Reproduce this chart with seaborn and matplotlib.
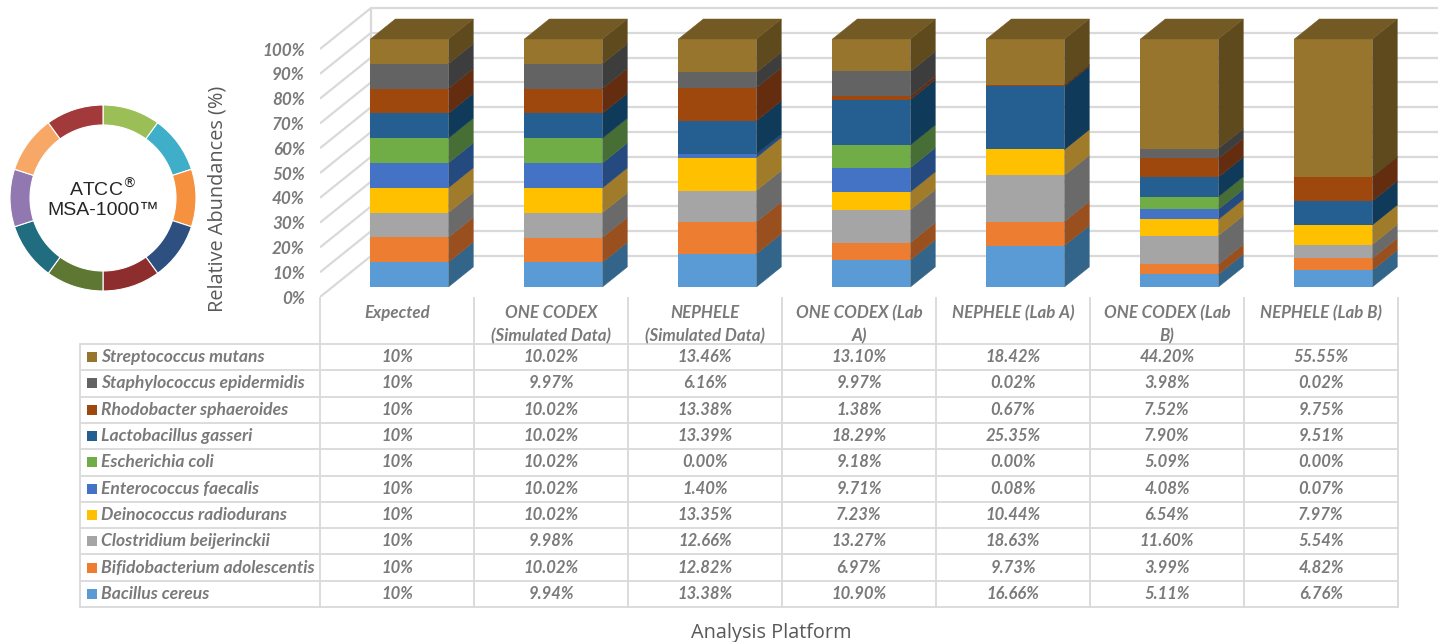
import numpy as np
import pandas as pd
import matplotlib
matplotlib.use("Agg")
import matplotlib.pyplot as plt
from matplotlib.patches import Polygon
import seaborn as sns

# ---------------- data ----------------
platforms = ["Expected", "ONE CODEX\n(Simulated Data)", "NEPHELE\n(Simulated Data)",
             "ONE CODEX (Lab\nA)", "NEPHELE (Lab A)", "ONE CODEX (Lab\nB)", "NEPHELE (Lab B)"]
value_decimals = [0, 2, 2, 2, 2, 2, 2]

# stacking order, bottom -> top
species = ["Bacillus cereus", "Bifidobacterium adolescentis", "Clostridium beijerinckii",
           "Deinococcus radiodurans", "Enterococcus faecalis", "Escherichia coli",
           "Lactobacillus gasseri", "Rhodobacter sphaeroides", "Staphylococcus epidermidis",
           "Streptococcus mutans"]

bacillus_cereus = [10, 9.94, 13.38, 10.90, 16.66, 5.11, 6.76]
bifidobacterium_adolescentis = [10, 10.02, 12.82, 6.97, 9.73, 3.99, 4.82]
clostridium_beijerinckii = [10, 9.98, 12.66, 13.27, 18.63, 11.60, 5.54]
deinococcus_radiodurans = [10, 10.02, 13.35, 7.23, 10.44, 6.54, 7.97]
enterococcus_faecalis = [10, 10.02, 1.40, 9.71, 0.08, 4.08, 0.07]
escherichia_coli = [10, 10.02, 0.00, 9.18, 0.00, 5.09, 0.00]
lactobacillus_gasseri = [10, 10.02, 13.39, 18.29, 25.35, 7.90, 9.51]
rhodobacter_sphaeroides = [10, 10.02, 13.38, 1.38, 0.67, 7.52, 9.75]
staphylococcus_epidermidis = [10, 9.97, 6.16, 9.97, 0.02, 3.98, 0.02]
streptococcus_mutans = [10, 10.02, 13.46, 13.10, 18.42, 44.20, 55.55]

series = [bacillus_cereus, bifidobacterium_adolescentis, clostridium_beijerinckii,
          deinococcus_radiodurans, enterococcus_faecalis, escherichia_coli,
          lactobacillus_gasseri, rhodobacter_sphaeroides, staphylococcus_epidermidis,
          streptococcus_mutans]

y_ticks = [0, 10, 20, 30, 40, 50, 60, 70, 80, 90, 100]
y_tick_labels = [f"{t}%" for t in y_ticks]

donut_title = "ATCC$^{\\circledR}$\nMSA-1000™"
donut_shares = [s[0] for s in series]   # expected: ten strains, equal shares

# ---------------- styles ----------------
front_colors = ["#5B9BD5", "#ED7D31", "#A5A5A5", "#FFC000", "#4472C4",
                "#70AD47", "#255E91", "#9E480E", "#636363", "#98752D"]
side_colors = ["#33658A", "#9A4F1E", "#6A6A6A", "#A07C2A", "#244A80",
               "#476F35", "#0F3A5A", "#652D10", "#3D3D3D", "#5F4A1E"]
top_colors = ["#4A7BA6", "#B8612A", "#858585", "#C09A20", "#365C9C",
              "#5A8A3A", "#1C4A73", "#7C380C", "#4F4F4F", "#735A24"]
donut_colors = ["#9BBE56", "#3FAEC8", "#F5913F", "#2D5080", "#8E2D2D",
                "#5E7833", "#1F6D7E", "#9178B0", "#F7A866", "#A23A3B"]

GRID = "#D9D9D9"
TXT = "#7A7A7A"

sns.set_theme(style="white")
plt.rcParams["font.family"] = ["Lato", "DejaVu Sans"]

W, H = 1438, 642
fig = plt.figure(figsize=(W / 100, H / 100), dpi=100)
fig.patch.set_facecolor("white")

# pseudo-3D geometry (pixel based)
PXX = 154.0      # pixels per category column
PXY = 2.48       # pixels per percent
DX = 51 / PXX    # column units per unit depth
DY = 41 / PXY    # percent per unit depth
ZF, ZB = 0.244, 0.732   # bar front / back depth
BW = 78 / PXX


def proj(col, v, z):
    return col + z * DX, v + (z - ZF) * DY


# ---------------- chart axes ----------------
ax = fig.add_axes([320 / W, (H - 297) / H, (W - 320) / W, 297 / H])
ax.set_facecolor("none")

# grid on walls
for v in y_ticks:
    x0, y0 = proj(-0.5, v, 0)
    x1, y1 = proj(-0.5, v, 1)
    x2, y2 = proj(7.5, v, 1)
    ax.plot([x0, x1], [y0, y1], color=GRID, lw=1.6, zorder=0, solid_capstyle="butt")
    ax.plot([x1, x2], [y1, y2], color=GRID, lw=1.6, zorder=0, solid_capstyle="butt")
xa, ya = proj(-0.5, 0, 1)
xb, yb = proj(-0.5, 100, 1)
ax.plot([xa, xb], [ya, yb], color=GRID, lw=1.6, zorder=0)

# front faces through seaborn (overlapping cumulative bars)
records = []
for i in range(len(platforms)):
    vals = np.array([s[i] for s in series], dtype=float)
    vals = vals / vals.sum() * 100
    cum = np.cumsum(vals)
    for j, sp in enumerate(species):
        records.append({"pos": i + ZF * DX, "species": sp, "top": cum[j]})
df = pd.DataFrame(records)
sns.barplot(data=df, x="pos", y="top", hue="species", hue_order=species[::-1],
            palette=dict(zip(species, front_colors)), dodge=False, native_scale=True,
            width=BW, errorbar=None, saturation=1, linewidth=0, legend=False, ax=ax,
            zorder=2)

# side and top faces
for i in range(len(platforms)):
    vals = np.array([s[i] for s in series], dtype=float)
    vals = vals / vals.sum() * 100
    cum = np.concatenate([[0], np.cumsum(vals)])
    xr = i + BW / 2
    xl = i - BW / 2
    for j in range(len(species)):
        b, t = cum[j], cum[j + 1]
        if t - b <= 0:
            continue
        pts = [proj(xr, b, ZF), proj(xr, b, ZB), proj(xr, t, ZB), proj(xr, t, ZF)]
        ax.add_patch(Polygon(pts, closed=True, facecolor=side_colors[j],
                             edgecolor=side_colors[j], lw=0.3, zorder=3))
    jt = max(j for j in range(len(species)) if vals[j] > 0)
    tot = cum[-1]
    pts = [proj(xl, tot, ZF), proj(xr, tot, ZF), proj(xr, tot, ZB), proj(xl, tot, ZB)]
    ax.add_patch(Polygon(pts, closed=True, facecolor=top_colors[jt],
                         edgecolor=top_colors[jt], lw=0.3, zorder=3))

ax.set_xlim(-0.5, -0.5 + (W - 320) / PXX)
ax.set_ylim(-ZF * DY, -ZF * DY + 297 / PXY)
ax.set_xticks([])
ax.set_xlabel("")
ax.set_ylabel("")
ax.set_yticks([v - ZF * DY for v in y_ticks])
ax.set_yticklabels(y_tick_labels, fontsize=12.3, fontweight="bold", fontstyle="italic",
                   color=TXT)
ax.tick_params(axis="y", length=0, pad=11)
for s in ax.spines.values():
    s.set_visible(False)

# ---------------- data table ----------------
RH = 26.3
HDR = 47 / RH
axt = fig.add_axes([70 / W, 0, (W - 70) / W, (H - 297) / H])
axt.set_xlim(-0.5 - 250 / PXX, -0.5 + (W - 320) / PXX)
axt.set_ylim((H - 344) / RH, -HDR)
axt.axis("off")

n_rows = len(species)
left_edge = -0.5 - 240 / PXX
for r in range(n_rows + 1):
    axt.plot([left_edge, len(platforms) - 0.5], [r, r], color=GRID, lw=1.3, zorder=1)
for c in range(len(platforms) + 1):
    axt.plot([c - 0.5, c - 0.5], [-HDR, n_rows], color=GRID, lw=1.3, zorder=1)
axt.plot([left_edge, left_edge], [0, n_rows], color=GRID, lw=1.3, zorder=1)

tfont = dict(fontweight="bold", fontstyle="italic", color=TXT)
for c, name in enumerate(platforms):
    axt.text(c, -HDR + 8 / RH, name, ha="center", va="top", linespacing=1.5,
             fontsize=12.2, **tfont)

for r in range(n_rows):
    j = n_rows - 1 - r
    axt.scatter([-0.5 - 228 / PXX], [r + 0.5], marker="s", s=50,
                color=front_colors[j], linewidths=0, zorder=2)
    axt.text(-0.5 - 219 / PXX, r + 0.5, species[j], ha="left", va="center",
             fontsize=12.6, **tfont)
    for c in range(len(platforms)):
        txt = f"{series[j][c]:.{value_decimals[c]}f}%"
        axt.text(c, r + 0.5, txt, ha="center", va="center", fontsize=12.0, **tfont)

# ---------------- labels ----------------
fig.text(771 / W, 1 - 633 / H, "Analysis Platform", ha="center", va="center",
         fontsize=14.3, color="#595959", family=["Open Sans", "DejaVu Sans"])
fig.text(218 / W, 1 - 199 / H, "Relative Abundances (%)", rotation=90, ha="center",
         va="center", fontsize=14.3, color="#595959", family=["Open Sans", "DejaVu Sans"])

# ---------------- donut ----------------
axd = fig.add_axes([(103 - 100) / W, (H - 198 - 100) / H, 200 / W, 200 / H])
axd.pie(donut_shares, colors=donut_colors, startangle=90, counterclock=False,
        radius=93, wedgeprops=dict(width=20, linewidth=0.8, edgecolor="white"))
axd.set_xlim(-100, 100)
axd.set_ylim(-100, 100)
axd.set_aspect("equal")
axd.text(0, 0, donut_title, ha="center", va="center", fontsize=14, color="#262626",
         family=["Liberation Sans", "DejaVu Sans"], linespacing=1.15)

fig.savefig("out.png", dpi=100, facecolor="white")
